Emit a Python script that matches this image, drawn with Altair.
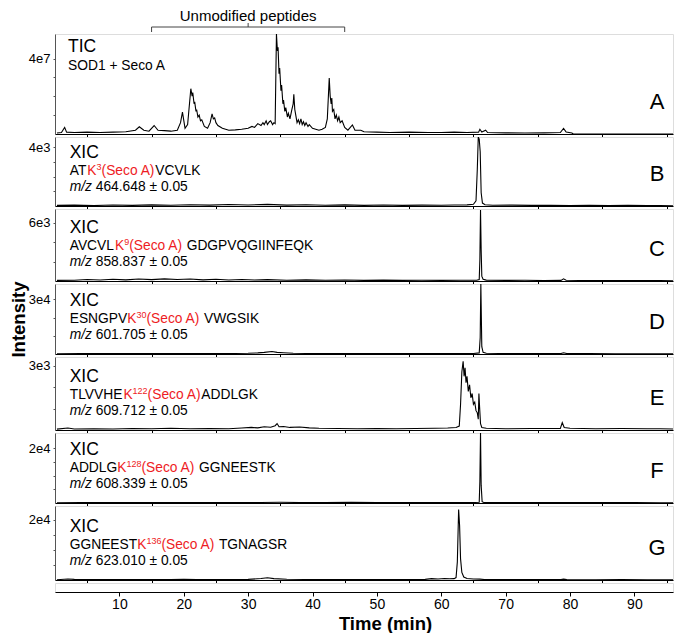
import altair as alt
import pandas as pd

FONT = "Liberation Sans"
RED = "#ee1c24"
X_DOMAIN = [0, 96]
PLOT_W = 618

# ---------------- data (time in min, intensity) ----------------
tic = [(0.3, 0.05e7), (1.0, 0.08e7), (1.5, 0.35e7), (1.8, 0.1e7), (3.0, 0.08e7), (5.0, 0.1e7),
       (7.0, 0.08e7), (9.0, 0.1e7), (11.0, 0.12e7), (12.5, 0.2e7), (13.1, 0.38e7), (13.8, 0.2e7),
       (14.6, 0.15e7), (15.4, 0.45e7), (16.0, 0.2e7), (17.0, 0.18e7), (18.0, 0.15e7), (19.0, 0.2e7),
       (19.5, 0.6e7), (19.8, 1.16e7), (20.2, 0.3e7), (20.6, 0.5e7), (21.1, 2.4e7), (21.3, 2.0e7),
       (21.4, 2.2e7), (21.6, 1.6e7), (21.7, 1.7e7), (21.9, 1.2e7), (22.0, 1.3e7), (22.2, 0.9e7),
       (22.4, 1.0e7), (22.6, 0.7e7), (22.8, 0.75e7), (23.2, 0.4e7), (23.7, 0.3e7), (24.1, 0.6e7),
       (24.4, 1.07e7), (24.6, 0.8e7), (24.8, 0.85e7), (25.0, 0.6e7), (25.3, 0.45e7), (26.0, 0.3e7),
       (27.0, 0.2e7), (28.0, 0.22e7), (29.0, 0.25e7), (30.0, 0.3e7), (30.6, 0.4e7), (31.0, 0.35e7),
       (31.5, 0.55e7), (32.0, 0.45e7), (32.3, 0.6e7), (32.5, 0.5e7), (32.8, 0.7e7), (33.0, 0.5e7),
       (33.3, 0.65e7), (33.5, 0.7e7), (33.8, 0.5e7), (34.0, 0.6e7), (34.2, 0.55e7), (34.4, 5.3e7),
       (34.55, 4.4e7), (34.65, 4.6e7), (34.8, 3.2e7), (34.9, 3.5e7), (35.1, 2.3e7), (35.2, 2.6e7),
       (35.4, 1.6e7), (35.5, 1.8e7), (35.7, 1.2e7), (35.85, 1.4e7), (36.1, 0.9e7), (36.25, 1.1e7),
       (36.5, 0.8e7), (36.8, 1.3e7), (37.0, 1.6e7), (37.1, 2.1e7), (37.25, 1.3e7), (37.4, 1.0e7),
       (37.6, 0.6e7), (37.8, 0.75e7), (38.0, 0.55e7), (38.2, 0.8e7), (38.4, 0.5e7), (38.6, 0.65e7),
       (38.8, 0.45e7), (39.0, 0.6e7), (39.3, 0.4e7), (39.5, 0.5e7), (40.0, 0.3e7), (40.5, 0.25e7),
       (41.0, 0.2e7), (41.5, 0.25e7), (42.0, 0.35e7), (42.3, 0.8e7), (42.6, 2.96e7), (42.75, 2.0e7),
       (42.9, 1.6e7), (43.0, 1.9e7), (43.1, 1.2e7), (43.3, 1.3e7), (43.5, 0.8e7), (43.7, 1.0e7),
       (43.9, 0.7e7), (44.1, 0.9e7), (44.3, 0.6e7), (44.6, 0.7e7), (45.0, 0.35e7), (45.5, 0.2e7),
       (46.2, 0.48e7), (46.6, 0.2e7), (47.5, 0.2e7), (48.0, 0.12e7), (50.0, 0.1e7), (52.0, 0.08e7),
       (55.0, 0.1e7), (58.0, 0.08e7), (60.0, 0.08e7), (62.0, 0.1e7), (64.0, 0.08e7), (65.8, 0.1e7),
       (66.0, 0.25e7), (66.3, 0.1e7), (66.9, 0.2e7), (67.2, 0.08e7), (70.0, 0.06e7), (73.0, 0.05e7),
       (76.0, 0.06e7), (78.5, 0.08e7), (79.0, 0.3e7), (79.4, 0.1e7), (80.3, 0.05e7), (80.5, 0.0),
       (96.0, 0.0)]

xic_b = [(0.3, 40), (3, 60), (6, 30), (9, 70), (12, 40), (15, 80), (18, 50), (21, 90), (24, 60),
         (27, 100), (30, 70), (33, 110), (36, 60), (39, 90), (42, 50), (45, 80), (48, 40), (51, 70),
         (54, 40), (57, 60), (60, 50), (62, 70), (64, 80), (65.0, 120), (65.4, 350), (65.6, 2500),
         (65.75, 4700), (65.9, 4550), (66.05, 3700), (66.2, 900), (66.4, 200), (66.8, 80), (68, 50),
         (71, 60), (74, 40), (77, 50), (80, 30), (83, 40), (86, 30), (89, 40), (92, 30), (94, 30), (96, 20)]

xic_c = [(0.3, 60), (3, 80), (5, 150), (7, 100), (9, 180), (11, 120), (13, 200), (15, 140), (17, 220),
         (19, 150), (21, 200), (23, 120), (25, 180), (27, 110), (29, 160), (31, 100), (33, 140), (36, 80),
         (39, 120), (42, 70), (45, 100), (48, 60), (51, 90), (54, 60), (57, 80), (60, 60), (63, 70),
         (65.5, 80), (65.9, 150), (66.0, 2200), (66.1, 7300), (66.2, 3200), (66.3, 500), (66.5, 180),
         (67, 90), (70, 60), (73, 70), (76, 50), (78.6, 60), (79, 220), (79.4, 80), (82, 50), (85, 40),
         (88, 50), (91, 40), (94, 40), (96, 30)]

xic_d = [(0.3, 150), (4, 250), (8, 200), (12, 300), (16, 200), (20, 250), (24, 200), (28, 300), (30, 400),
         (31.5, 600), (32.5, 900), (33.7, 1400), (34.5, 900), (35.5, 700), (37, 400), (39, 300), (42, 200),
         (46, 250), (50, 200), (54, 250), (58, 200), (62, 250), (65, 300), (65.9, 600), (66.05, 9000),
         (66.15, 38500), (66.3, 4000), (66.5, 900), (67, 400), (70, 250), (74, 200), (78.6, 250),
         (79, 700), (79.5, 250), (83, 200), (87, 150), (91, 150), (94, 150), (96, 100)]

xic_e = [(0.3, 40), (2, 90), (3, 50), (6, 60), (9, 50), (12, 70), (15, 60), (18, 80), (21, 60), (24, 70),
         (27, 60), (29, 90), (30.5, 120), (31.5, 100), (32.5, 150), (33.5, 130), (34.2, 200), (34.5, 300),
         (34.8, 150), (35.5, 160), (36.5, 120), (38, 140), (39.5, 100), (41, 80), (44, 70), (47, 60),
         (50, 70), (53, 60), (56, 70), (59, 80), (61, 90), (62.3, 120), (62.8, 180), (63.0, 1200),
         (63.2, 2700), (63.4, 3200), (63.55, 2500), (63.7, 2900), (63.85, 2200), (64.0, 2500), (64.2, 1800),
         (64.4, 2100), (64.6, 1500), (64.8, 1700), (65.0, 1200), (65.2, 1300), (65.4, 900), (65.6, 800),
         (65.75, 500), (65.85, 1700), (65.95, 1100), (66.1, 300), (66.3, 120), (67, 80), (70, 60), (74, 70),
         (78.5, 70), (78.8, 340), (79.1, 120), (80, 80), (84, 60), (88, 70), (92, 60), (94, 60), (96, 50)]

xic_f = [(0.3, 100), (4, 150), (8, 120), (12, 180), (16, 120), (20, 150), (24, 120), (28, 160), (32, 200),
         (35, 260), (38, 180), (42, 150), (46, 220), (50, 180), (54, 150), (58, 140), (62, 130), (65, 150),
         (65.9, 300), (66.0, 8000), (66.1, 25500), (66.2, 6500), (66.35, 500), (66.6, 200), (70, 150),
         (74, 130), (78, 150), (82, 120), (86, 130), (90, 120), (94, 110), (96, 100)]

xic_g = [(0.3, 100), (2, 350), (3, 200), (6, 150), (10, 120), (14, 150), (18, 130), (20, 250), (22, 140),
         (26, 130), (30, 200), (32, 500), (33, 750), (34, 450), (36, 250), (40, 150), (44, 130), (48, 120),
         (52, 130), (56, 150), (57.5, 200), (58.5, 450), (59.5, 350), (60.5, 500), (61.3, 400), (62.0, 450),
         (62.3, 800), (62.5, 6000), (62.7, 23300), (62.85, 18000), (63.0, 7000), (63.2, 2500), (63.5, 1000),
         (64, 500), (65, 350), (66, 300), (66.7, 150), (70, 120), (74, 110), (78.6, 120), (79, 300),
         (79.5, 130), (84, 100), (88, 110), (92, 100), (96, 100)]

traces = [tic, xic_b, xic_c, xic_d, xic_e, xic_f, xic_g]
panel_letters = ["A", "B", "C", "D", "E", "F", "G"]
y_max = [5.3e7, 4.7e3, 7.4e3, 3.85e4, 3.4e3, 2.55e4, 2.45e4]
y_ticks = [[1e7, 2e7, 3e7, 4e7], [1e3, 2e3, 3e3, 4e3], [2e3, 4e3, 6e3], [1e4, 2e4, 3e4],
           [1e3, 2e3, 3e3], [5e3, 1e4, 1.5e4, 2e4], [5e3, 1e4, 1.5e4, 2e4]]
y_label_values = [4e7, 4e3, 6e3, 3e4, 3e3, 2e4, 2e4]
y_label_texts = ["4e7", "4e3", "6e3", "3e4", "3e3", "2e4", "2e4"]

peptide_prefix = ["AT", "AVCVL", "ESNGPV", "TLVVHE", "ADDLG", "GGNEEST"]
peptide_site = ["3", "9", "30", "122", "128", "136"]
peptide_suffix = ["VCVLK", "GDGPVQGIINFEQK", "VWGSIK", "ADDLGK", "GGNEESTK", "TGNAGSR"]
peptide_space = [False, True, True, False, True, True]
mz_values = ["464.648", "858.837", "601.705", "609.712", "608.339", "623.010"]

bracket_times = [15, 30, 45]
x_tick_values = [10, 20, 30, 40, 50, 60, 70, 80, 90]
x_minor_values = [5, 15, 25, 35, 45, 55, 65, 75, 85, 95]

# ---------------- layout ----------------
heights = [100, 69, 72, 70, 73, 70, 74]

# Arial / Liberation Sans advance widths (per 1000 em)
W = {"A": 667, "B": 667, "C": 722, "D": 722, "E": 667, "F": 611, "G": 778, "H": 722, "I": 278,
     "K": 667, "L": 556, "M": 833, "N": 722, "O": 778, "P": 667, "Q": 778, "R": 722, "S": 667,
     "T": 611, "V": 667, "W": 944, "X": 667, "Y": 667, "a": 556, "c": 500, "e": 556, "m": 833,
     "o": 556, "z": 500, " ": 278, "(": 333, ")": 333, ".": 278, "/": 278, "±": 584, "+": 584}


def tw(s, size):
    return sum(W.get(ch, 556) for ch in s) * size / 1000.0


X_ENC = alt.X("t:Q", scale=alt.Scale(domain=X_DOMAIN, nice=False, zero=False),
              axis=alt.Axis(values=x_minor_values, labels=False, tickSize=3, tickColor="black",
                            domainColor="black", grid=False, title=None))


def txt(s, x, y, size, color="black", style="normal", weight="normal", align="left"):
    return alt.Chart(pd.DataFrame({"s": [s]})).mark_text(
        x=x, y=y, align=align, baseline="alphabetic", fontSize=size, color=color,
        fontStyle=style, fontWeight=weight, font=FONT
    ).encode(text="s:N")


PEP = 13.8
SUP = 9
TX = 14.7


def panel(i):
    h = heights[i]
    df = pd.DataFrame(traces[i], columns=["t", "v"])
    ax_kw = dict(values=y_ticks[i],
                 labelExpr=f"datum.value == {y_label_values[i]} ? '{y_label_texts[i]}' : ''",
                 tickSize=2, tickColor="#555", domainColor="#555", labelFontSize=13,
                 labelPadding=3, labelColor="black", grid=False, labelFont=FONT)
    if i == 3:
        ax_kw.update(title="Intensity", titleFontSize=18.5, titleFontWeight="bold",
                     titlePadding=0, titleFont=FONT, titleColor="black")
    else:
        ax_kw.update(title=None)
    y_enc = alt.Y("v:Q", scale=alt.Scale(domain=[0, y_max[i]], nice=False), axis=alt.Axis(**ax_kw))
    line = alt.Chart(df).mark_line(color="black", strokeWidth=1.1, clip=True).encode(x=X_ENC, y=y_enc)
    layers = [line]
    layers.append(txt(panel_letters[i], 602, h - 25, 22, align="center"))
    if i == 0:
        layers.append(txt("TIC", 13, h - 81.7, 17.5))
        layers.append(txt("SOD1 + Seco A", 13, h - 64.3, PEP))
        br = pd.DataFrame({"t": [bracket_times[0]], "t2": [bracket_times[2]]})
        layers.append(alt.Chart(br).mark_rule(color="#444", strokeWidth=1).encode(
            x=X_ENC, x2="t2:Q", y=alt.value(-7)))
        ends = pd.DataFrame({"t": [bracket_times[0], bracket_times[2]]})
        layers.append(alt.Chart(ends).mark_rule(color="#444", strokeWidth=1).encode(
            x=X_ENC, y=alt.value(-7), y2=alt.value(-2)))
        mid = pd.DataFrame({"t": [bracket_times[1]]})
        layers.append(alt.Chart(mid).mark_rule(color="#444", strokeWidth=1).encode(
            x=X_ENC, y=alt.value(-11), y2=alt.value(-7)))
        lab = pd.DataFrame({"t": [bracket_times[1]], "s": ["Unmodified peptides"]})
        layers.append(alt.Chart(lab).mark_text(fontSize=15, align="center", baseline="alphabetic",
                                               y=-13, font=FONT, color="black").encode(
            x=X_ENC, text="s:N"))
    else:
        j = i - 1
        layers.append(txt("XIC", TX, h - 48.5, 17.5))
        yp = h - 31
        x = TX
        layers.append(txt(peptide_prefix[j], x, yp, PEP))
        x += tw(peptide_prefix[j], PEP)
        layers.append(txt("K", x, yp, PEP, color=RED))
        x += tw("K", PEP)
        layers.append(txt(peptide_site[j], x, yp - 5, SUP, color=RED))
        x += tw(peptide_site[j], SUP)
        layers.append(txt("(Seco A)", x, yp, PEP, color=RED))
        x += tw("(Seco A)", PEP)
        if peptide_space[j]:
            x += tw(" ", PEP)
        layers.append(txt(peptide_suffix[j], x, yp, PEP))
        ym = h - 15
        layers.append(txt("m/z", TX, ym, PEP, style="italic"))
        layers.append(txt(mz_values[j] + " ± 0.05", TX + tw("m/z ", PEP), ym, PEP))
    return alt.layer(*layers).properties(width=PLOT_W, height=h)


panels = [panel(i) for i in range(7)]

axis_df = pd.DataFrame({"t": X_DOMAIN})
axis_chart = alt.Chart(axis_df).mark_rule(opacity=0).encode(
    x=alt.X("t:Q", scale=alt.Scale(domain=X_DOMAIN, nice=False, zero=False),
            axis=alt.Axis(values=x_tick_values, title="Time (min)", titleFontSize=18.5,
                          titleFontWeight="bold", titleFont=FONT, titleColor="black",
                          titlePadding=3, titleX=330, labelFontSize=14, labelFont=FONT,
                          labelColor="black", labelPadding=1, tickSize=4, tickColor="black",
                          domainColor="black", grid=False))
).properties(width=PLOT_W, height=9)

chart = alt.vconcat(*panels, axis_chart, spacing=3, bounds="flush").properties(
    padding=0
).configure_view(strokeWidth=0).configure(font=FONT)

chart.save("out.html", embed_options={"renderer": "svg", "actions": False})
